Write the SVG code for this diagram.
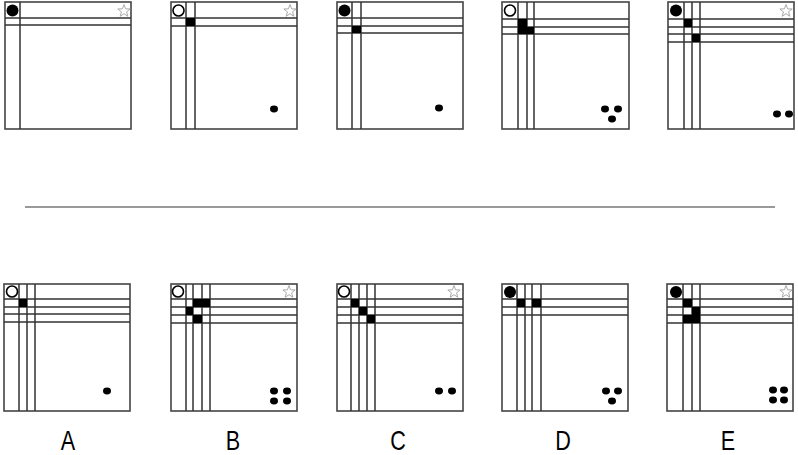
<svg xmlns="http://www.w3.org/2000/svg" width="798" height="455" viewBox="0 0 798 455">
<style>
.box{fill:#fff;stroke:#444;stroke-width:1.6}
.ln{stroke:#333;stroke-width:1.5;fill:none}
.blk{fill:#000}
.fc{fill:#000}
.hc{fill:#fff;stroke:#000;stroke-width:1.6}
.dot{fill:#000}
.lbl{font-family:"Liberation Sans",sans-serif;font-size:27px;fill:#000;text-anchor:middle}
</style>
<defs>
<polygon id="star" points="0,-6.5 1.59,-2.18 6.18,-2.01 2.57,0.83 3.82,5.26 0,2.7 -3.82,5.26 -2.57,0.83 -6.18,-2.01 -1.59,-2.18" fill="#fff" stroke="#aaa" stroke-width="1"/>
<ellipse id="d" rx="4" ry="3.4"/>
</defs>
<rect width="798" height="455" fill="#fff"/>

<g id="t1">
<rect class="box" x="5" y="2" width="126" height="127"/>
<path class="ln" d="M20,2V129 M5,18H131 M5,25H131"/>
<circle class="fc" cx="12.5" cy="10.5" r="6"/>
<use href="#star" x="124" y="11"/>
</g>
<g id="t2">
<rect class="box" x="171" y="2" width="126" height="127"/>
<path class="ln" d="M186,2V129 M195,2V129 M171,18H297 M171,26H297"/>
<rect class="blk" x="186" y="18" width="9" height="8"/>
<circle class="hc" cx="178.5" cy="10.5" r="5.5"/>
<use href="#star" x="290" y="11"/>
<use href="#d" x="274" y="109"/>
</g>
<g id="t3">
<rect class="box" x="337" y="2" width="126" height="127"/>
<path class="ln" d="M352,2V129 M361,2V129 M337,18H463 M337,26H463 M337,33H463"/>
<rect class="blk" x="352" y="26" width="9" height="7"/>
<circle class="fc" cx="344.5" cy="10.5" r="6"/>
<use href="#d" x="439" y="108"/>
</g>
<g id="t4">
<rect class="box" x="502" y="2" width="127" height="127"/>
<path class="ln" d="M518,2V129 M527,2V129 M534,2V129 M502,19H629 M502,27H629 M502,34H629"/>
<rect class="blk" x="518" y="19" width="9" height="15"/>
<rect class="blk" x="527" y="27" width="7" height="7"/>
<circle class="hc" cx="510" cy="10.5" r="5.5"/>
<use href="#d" x="605" y="109"/>
<use href="#d" x="618" y="109"/>
<use href="#d" x="612" y="119"/>
</g>
<g id="t5">
<rect class="box" x="668" y="2" width="126" height="127"/>
<path class="ln" d="M684,2V129 M692,2V129 M700,2V129 M668,19H794 M668,27H794 M668,34H794 M668,42H794"/>
<rect class="blk" x="684" y="19" width="8" height="8"/>
<rect class="blk" x="692" y="34" width="8" height="8"/>
<circle class="fc" cx="676" cy="10.5" r="6"/>
<use href="#star" x="786" y="11"/>
<use href="#d" x="777" y="114"/>
<use href="#d" x="789" y="114"/>
</g>

<g id="separator">
<line x1="25" y1="207" x2="775" y2="207" stroke="#999" stroke-width="2"/>
</g>

<g id="A">
<rect class="box" x="4" y="284" width="126" height="127"/>
<path class="ln" d="M19,284V411 M27,284V411 M35,284V411 M4,299H130 M4,307H130 M4,314H130 M4,322H130"/>
<rect class="blk" x="19" y="299" width="8" height="8"/>
<circle class="hc" cx="12" cy="291.5" r="5.5"/>
<use href="#d" x="107" y="391"/>
<text class="lbl" transform="translate(68,450) scale(0.8,1)">A</text>
</g>
<g id="B">
<rect class="box" x="171" y="284" width="126" height="127"/>
<path class="ln" d="M186,284V411 M193,284V411 M202,284V411 M210,284V411 M171,299H297 M171,307H297 M171,315H297 M171,323H297"/>
<rect class="blk" x="193" y="299" width="17" height="8"/>
<rect class="blk" x="186" y="307" width="7" height="8"/>
<rect class="blk" x="193" y="315" width="9" height="8"/>
<circle class="hc" cx="178" cy="291.5" r="5.5"/>
<use href="#star" x="289" y="292"/>
<use href="#d" x="274" y="391"/>
<use href="#d" x="287" y="391"/>
<use href="#d" x="274" y="401"/>
<use href="#d" x="287" y="401"/>
<text class="lbl" transform="translate(233,450) scale(0.8,1)">B</text>
</g>
<g id="C">
<rect class="box" x="337" y="284" width="126" height="127"/>
<path class="ln" d="M351,284V411 M359,284V411 M367,284V411 M375,284V411 M337,299H463 M337,307H463 M337,315H463 M337,323H463"/>
<rect class="blk" x="351" y="299" width="8" height="8"/>
<rect class="blk" x="359" y="307" width="8" height="8"/>
<rect class="blk" x="367" y="315" width="8" height="8"/>
<circle class="hc" cx="344" cy="291.5" r="5.5"/>
<use href="#star" x="454" y="292"/>
<use href="#d" x="439" y="391"/>
<use href="#d" x="452" y="391"/>
<text class="lbl" transform="translate(398,450) scale(0.8,1)">C</text>
</g>
<g id="D">
<rect class="box" x="502" y="284" width="126" height="127"/>
<path class="ln" d="M517,284V411 M525,284V411 M532,284V411 M541,284V411 M502,299H628 M502,307H628 M502,315H628"/>
<rect class="blk" x="517" y="299" width="8" height="8"/>
<rect class="blk" x="532" y="299" width="9" height="8"/>
<circle class="fc" cx="510" cy="292" r="6"/>
<use href="#d" x="606" y="391"/>
<use href="#d" x="618" y="391"/>
<use href="#d" x="612" y="401"/>
<text class="lbl" transform="translate(563,450) scale(0.8,1)">D</text>
</g>
<g id="E">
<rect class="box" x="667" y="284" width="126" height="127"/>
<path class="ln" d="M683,284V411 M692,284V411 M700,284V411 M667,299H793 M667,307H793 M667,315H793 M667,323H793"/>
<rect class="blk" x="683" y="299" width="9" height="8"/>
<rect class="blk" x="692" y="307" width="8" height="8"/>
<rect class="blk" x="683" y="315" width="17" height="8"/>
<circle class="fc" cx="676" cy="292" r="6"/>
<use href="#star" x="786" y="292"/>
<use href="#d" x="773" y="390"/>
<use href="#d" x="784" y="390"/>
<use href="#d" x="773" y="400"/>
<use href="#d" x="784" y="400"/>
<text class="lbl" transform="translate(728,450) scale(0.8,1)">E</text>
</g>
</svg>
